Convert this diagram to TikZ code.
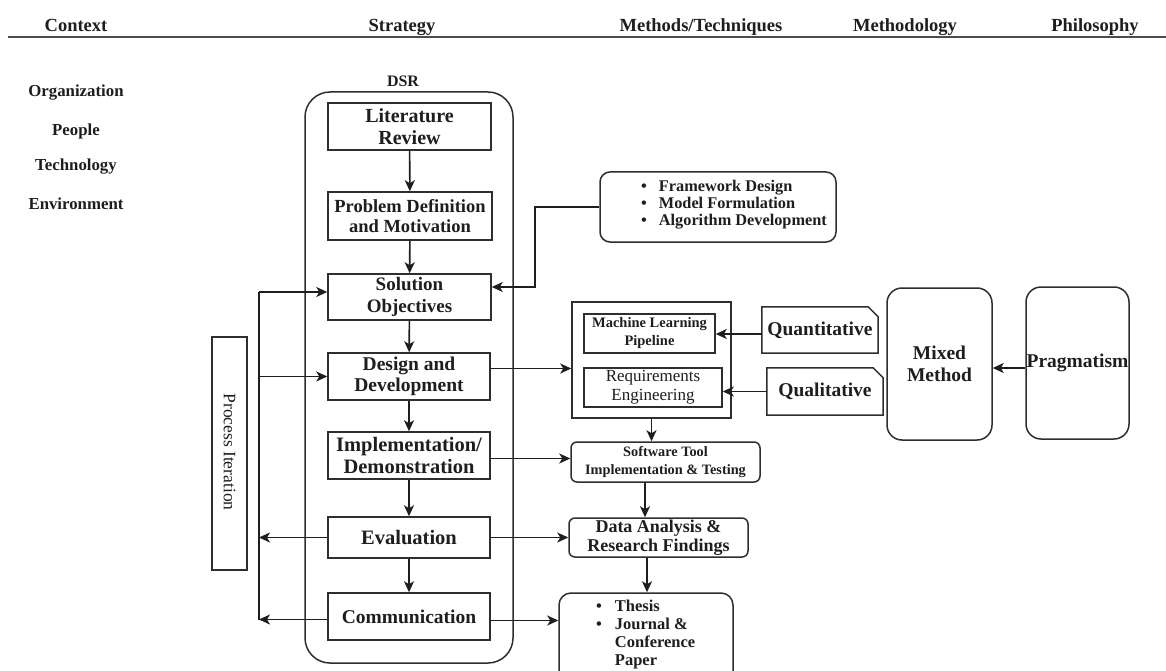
\documentclass[tikz,border=0pt]{standalone}
\usepackage{fontspec}
\setmainfont{Liberation Serif}
\usetikzlibrary{arrows.meta,calc}
\definecolor{ln}{HTML}{1E1E1E}
\definecolor{bx}{HTML}{2E2E2E}
\tikzset{
  box/.style={draw=bx, line width=1.5pt, inner sep=0pt, align=center, text=ln},
  rbox/.style={box, rounded corners=#1},
  arr/.style={draw=ln, line width=1.6pt, -{Stealth[length=11pt,width=10pt,inset=3pt]}},
  plain/.style={draw=ln, line width=1.6pt},
  hdr/.style={font=\fontsize{18.5}{21}\selectfont\bfseries, text=ln, inner sep=0pt, anchor=base},
  ctx/.style={font=\fontsize{16.8}{19}\selectfont\bfseries, text=ln, inner sep=0pt},
  big/.style={font=\fontsize{20}{22}\selectfont\bfseries},
}
\begin{document}
\begin{tikzpicture}[x=1pt,y=-1pt]
\useasboundingbox[fill=white] (0,0) rectangle (1166,671);

% header
\node[hdr] (hctx) at (76,32) {Context};
\node[hdr] (hstr) at (402,32) {Strategy};
\node[hdr] (hmet) at (701,32) {Methods/Techniques};
\node[hdr] (hmdl) at (905,32) {Methodology};
\node[hdr] (hphi) at (1095,32) {Philosophy};
\coordinate (hl0) at (8,37);
\coordinate (hl1) at (1166,37);
\draw[draw=black!70, line width=1.8pt] (hl0) -- (hl1);

% context
\node[ctx] (c1) at (76,93) {Organization};
\node[ctx] (c2) at (76,131) {People};
\node[ctx] (c3) at (76,167) {Technology};
\node[ctx] (c4) at (76,204) {Environment};

% DSR container
\node[rbox=25pt, minimum width=208pt, minimum height=571pt] (dsr) at (409,377.5) {};
\node[font=\fontsize{16}{18}\selectfont\bfseries, text=ln, inner sep=0pt] (dsrl) at (403,81) {DSR};

% process steps
\node[box, big, minimum width=163pt, minimum height=47pt] (lit) at (409.5,126.5) {Literature\\Review};
\node[box, font=\fontsize{18.5}{20.5}\selectfont\bfseries, minimum width=164pt, minimum height=48pt] (prob) at (410,216) {Problem Definition\\and Motivation};
\node[box, font=\fontsize{19}{21.5}\selectfont\bfseries, minimum width=163pt, minimum height=46pt] (sol) at (409.5,297) {Solution\\Objectives};
\node[box, font=\fontsize{19.5}{21.5}\selectfont\bfseries, minimum width=162pt, minimum height=47pt] (des) at (409,376.5) {Design and\\Development};
\node[box, font=\fontsize{20.5}{22}\selectfont\bfseries, minimum width=162pt, minimum height=47pt] (impl) at (409,455.5) {Implementation/\\Demonstration};
\node[box, font=\fontsize{20.5}{22}\selectfont\bfseries, minimum width=162pt, minimum height=41pt] (eval) at (409,537.5) {Evaluation};
\node[box, font=\fontsize{19.5}{22}\selectfont\bfseries, minimum width=162pt, minimum height=47pt] (comm) at (409,616.5) {Communication};

\draw[arr] (lit) -- (prob);
\draw[arr] (prob) -- (sol);
\draw[arr] (sol) -- (des);
\draw[arr] (des) -- (impl);
\draw[arr] (impl) -- (eval);
\draw[arr] (eval) -- (comm);

% process iteration
\node[box, minimum width=35pt, minimum height=233pt] (pi) at (229.5,453.5) {};
\node[rotate=-90, font=\fontsize{17.5}{20}\selectfont, text=ln, inner sep=0pt] (pit) at (229.5,452) {Process Iteration};
\coordinate (itx) at (259,0);
\draw[plain] ([yshift=-3pt]comm.west -| itx) -- ([yshift=5pt]sol.west -| itx);
\draw[arr] ([yshift=5pt]sol.west -| itx) -- ([yshift=5pt]sol.west);
\draw[arr] (des.west -| itx) -- (des.west);
\draw[arr] (eval.west) -- (eval.west -| itx);
\draw[arr] ([yshift=-3pt]comm.west) -- ([yshift=-3pt]comm.west -| itx);

% framework
\node[rbox=10pt, minimum width=236pt, minimum height=70pt] (fw) at (718,207) {};
\node[anchor=north west, inner sep=0pt, text=ln, font=\fontsize{16.3}{17}\selectfont\bfseries] (fwt) at (641,179)
  {\begin{tabular}{@{}c@{\hspace{12pt}}l@{}}\textbullet & Framework Design\\ \textbullet & Model Formulation\\ \textbullet & Algorithm Development\end{tabular}};
\coordinate (fwx) at (535,0);
\draw[arr] (fw.west) -- (fw.west -| fwx) -- ([yshift=10pt]sol.east -| fwx) -- ([yshift=10pt]sol.east);

% methods box
\node[box, minimum width=159pt, minimum height=116pt] (mbox) at (651.5,360) {};
\node[box, font=\fontsize{14.5}{18}\selectfont\bfseries, minimum width=131pt, minimum height=39pt] (ml) at (649.5,333.5) {Machine Learning\\Pipeline};
\node[box, font=\fontsize{17}{19}\selectfont, minimum width=138pt, minimum height=39pt] (req) at (653,387.5) {Requirements\\Engineering};
\draw[arr] ([yshift=8pt]des.east) -- ([yshift=8pt]des.east -| mbox.west);

% quantitative / qualitative
\node[font=\fontsize{19.5}{22}\selectfont\bfseries, text=ln, minimum width=116pt, minimum height=46pt, inner sep=0pt] (quant) at (820,330) {Quantitative};
\draw[box] (quant.north west) -- ([xshift=-10pt]quant.north east) -- ([yshift=-10pt]quant.north east) -- (quant.south east) -- (quant.south west) -- cycle;
\node[font=\fontsize{19.5}{22}\selectfont\bfseries, text=ln, minimum width=116pt, minimum height=47pt, inner sep=0pt] (qual) at (825,391.5) {Qualitative};
\draw[box] (qual.north west) -- ([xshift=-10pt]qual.north east) -- ([yshift=-10pt]qual.north east) -- (qual.south east) -- (qual.south west) -- cycle;
\draw[arr] ([yshift=-4pt]quant.west) -- ([yshift=-4pt]quant.west -| ml.east);
\draw[arr] (qual.west) -- (qual.west -| req.east);

% methodology / philosophy
\node[rbox=15pt, font=\fontsize{19.5}{22}\selectfont\bfseries, minimum width=105pt, minimum height=152pt] (mixed) at (939.5,364) {Mixed\\Method};
\node[rbox=15pt, font=\fontsize{19.5}{22}\selectfont\bfseries, minimum width=103pt, minimum height=152pt] (prag) at (1077.5,363) {Pragmatism};
\draw[arr] ([yshift=-5pt]prag.west) -- ([yshift=-4pt]mixed.east);

% outputs
\node[rbox=6pt, font=\fontsize{14.3}{18}\selectfont\bfseries, minimum width=189pt, minimum height=40pt] (sw) at (665.5,462) {Software Tool\\Implementation \& Testing};
\node[rbox=6pt, font=\fontsize{18}{19.5}\selectfont\bfseries, minimum width=179pt, minimum height=39pt] (data) at (658.5,537.5) {Data Analysis \&\\Research Findings};
\node[rbox=12pt, minimum width=174pt, minimum height=92pt] (thesis) at (646,639) {};
\node[anchor=north west, inner sep=0pt, text=ln, font=\fontsize{16.5}{18.3}\selectfont\bfseries] (tht) at (596,598)
  {\begin{tabular}{@{}c@{\hspace{13pt}}l@{}}\textbullet & Thesis\\ \textbullet & Journal \&\\ & Conference\\ & Paper\end{tabular}};

\draw[arr] (mbox.south) -- (mbox.south |- sw.north);
\draw[arr] ([xshift=-1pt]thesis.north |- sw.south) -- ([xshift=-1pt]thesis.north |- data.north);
\draw[arr] ([xshift=1pt]thesis.north |- data.south) -- ([xshift=1pt]thesis.north);
\draw[arr] ([yshift=-3pt]impl.east) -- ([yshift=-3pt]impl.east -| sw.west);
\draw[arr] (eval.east) -- (eval.east -| data.west);
\draw[arr] ([yshift=-4pt]comm.east) -- ([yshift=-4pt]comm.east -| thesis.west);
\end{tikzpicture}
\end{document}
